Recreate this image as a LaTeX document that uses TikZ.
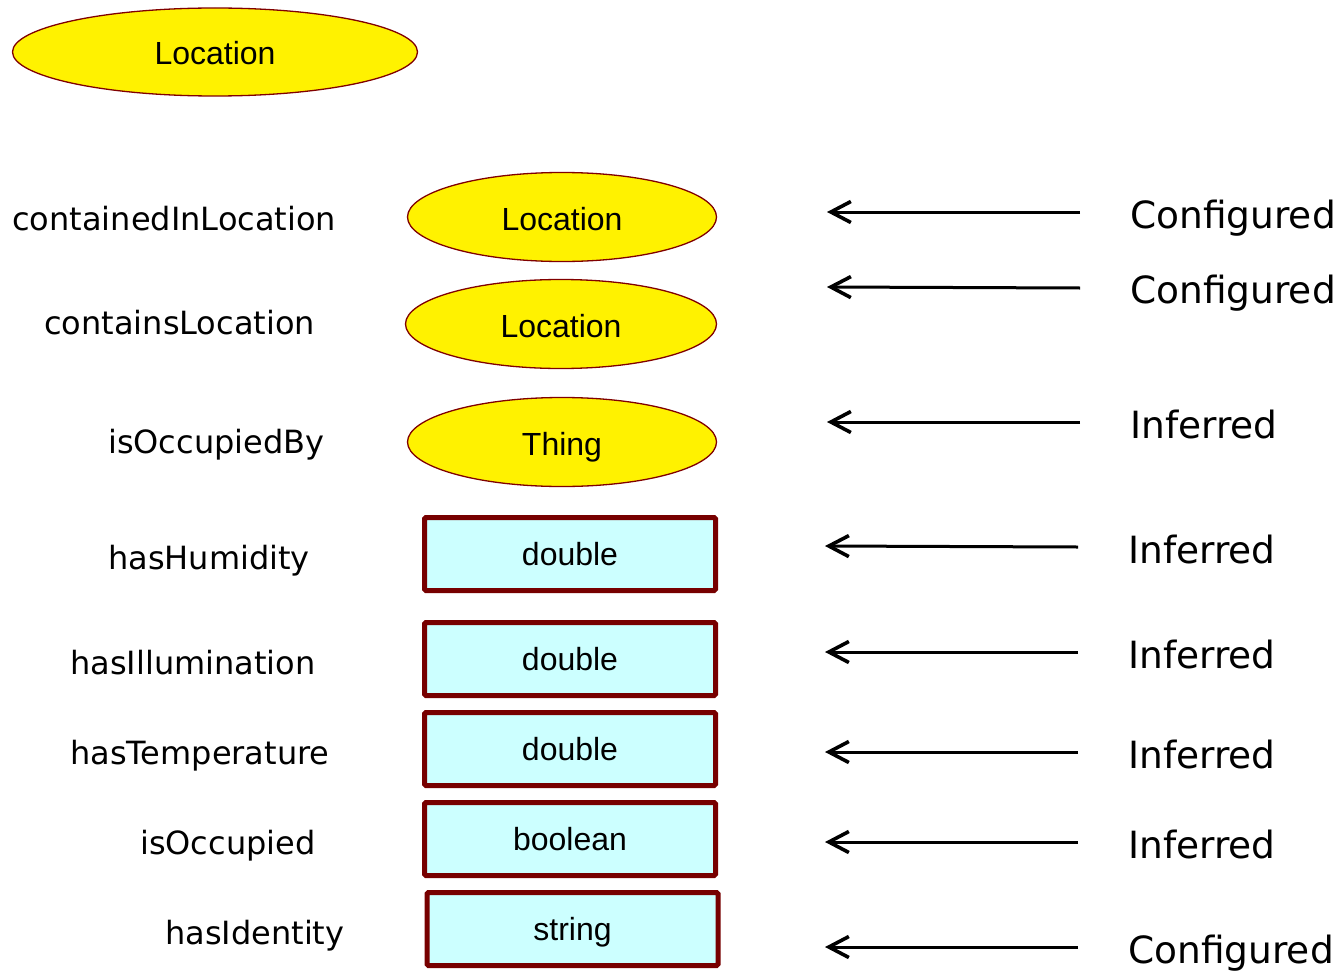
\documentclass[tikz,border=0pt]{standalone}
\usepackage{fontspec}
\setmainfont{Liberation Sans}
\newfontfamily\dejavu{DejaVu Sans}
\usetikzlibrary{shapes.geometric,arrows.meta}
\definecolor{ellborder}{HTML}{800000}
\definecolor{boxborder}{HTML}{770000}
\definecolor{boxfill}{HTML}{CCFFFF}
\tikzset{
  classell/.style={ellipse, draw=ellborder, line width=1.3pt, fill=yellow, inner sep=0pt,
    font=\fontsize{32}{38}\selectfont, text height=26pt, text depth=0pt},
  dtbox/.style={rectangle, draw=boxborder, line width=5pt, fill=boxfill, inner sep=0pt,
    rounded corners=1.5pt, minimum width=291pt, minimum height=73pt,
    font=\fontsize{32}{38}\selectfont, text height=23.5pt, text depth=0pt},
  proplabel/.style={anchor=base west, inner sep=0pt, font=\dejavu\fontsize{32}{38}\selectfont},
  statlabel/.style={anchor=base west, inner sep=0pt, font=\dejavu\fontsize{37.5}{44}\selectfont},
  statarrow/.style={line width=3pt, -{Straight Barb[length=20pt,width=21pt,line width=3.6pt]}}
}
\begin{document}
\begin{tikzpicture}[x=1pt,y=-1pt]
\useasboundingbox (0,0) rectangle (1337,971);

% top class
\node[classell, minimum width=405pt, minimum height=88pt] (top) at (215,52) {Location};

% ranges
\node[classell, minimum width=309pt, minimum height=89pt] (r1) at (562,217) {Location};
\node[classell, minimum width=311pt, minimum height=89pt] (r2) at (561,324) {Location};
\node[classell, minimum width=309pt, minimum height=89pt] (r3) at (562,442) {Thing};
\node[dtbox] (r4) at (570,554) {double};
\node[dtbox] (r5) at (570,659) {double};
\node[dtbox] (r6) at (570,749) {double};
\node[dtbox] (r7) at (570,839) {boolean};
\node[dtbox] (r8) at (572.5,929) {string};

% property labels
\node[proplabel] (p1) at (12,230) {containedInLocation};
\node[proplabel] (p2) at (44,334) {containsLocation};
\node[proplabel] (p3) at (108,453) {isOccupiedBy};
\node[proplabel] (p4) at (108,569) {hasHumidity};
\node[proplabel] (p5) at (70,674) {hasIllumination};
\node[proplabel] (p6) at (70,764) {hasTemperature};
\node[proplabel] (p7) at (140,854) {isOccupied};
\node[proplabel] (p8) at (165,944) {hasIdentity};

% status labels
\node[statlabel] (s1) at (1130,228) {Configured};
\node[statlabel] (s2) at (1130,303) {Configured};
\node[statlabel] (s3) at (1130,438) {Inferred};
\node[statlabel] (s4) at (1128,563) {Inferred};
\node[statlabel] (s5) at (1128,668) {Inferred};
\node[statlabel] (s6) at (1128,768) {Inferred};
\node[statlabel] (s7) at (1128,858) {Inferred};
\node[statlabel] (s8) at (1128,963) {Configured};

% arrow end points
\coordinate (a1s) at (1080,212); \coordinate (a1e) at (827,212);
\coordinate (a2s) at (1080,288); \coordinate (a2e) at (827,287);
\coordinate (a3s) at (1080,422); \coordinate (a3e) at (827,422);
\coordinate (a4s) at (1078,547); \coordinate (a4e) at (825,546);
\coordinate (a5s) at (1078,652); \coordinate (a5e) at (825,652);
\coordinate (a6s) at (1078,752); \coordinate (a6e) at (825,752);
\coordinate (a7s) at (1078,842); \coordinate (a7e) at (825,842);
\coordinate (a8s) at (1078,947); \coordinate (a8e) at (825,947);
\foreach \i in {1,...,8} {\draw[statarrow] (a\i s) -- (a\i e);}
\end{tikzpicture}
\end{document}
